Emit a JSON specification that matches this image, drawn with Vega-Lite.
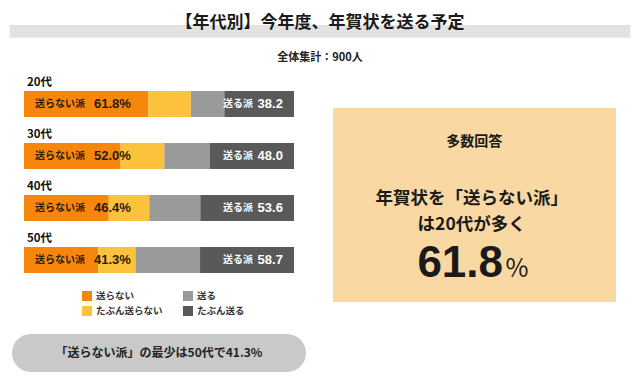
{
  "$schema": "https://vega.github.io/schema/vega-lite/v6.json",
  "width": 640,
  "height": 385,
  "autosize": {"type": "fit", "contains": "padding"},
  "padding": 0,
  "background": "#ffffff",
  "config": {
    "view": {"stroke": null},
    "font": "Noto Sans CJK JP",
    "text": {"font": "Noto Sans CJK JP"}
  },
  "datasets": {
    "answers": [
      {"age": "20代", "answer": "送らない", "level": 1, "pct": 46.0},
      {"age": "20代", "answer": "たぶん送らない", "level": 2, "pct": 15.8},
      {"age": "20代", "answer": "送る", "level": 3, "pct": 12.4},
      {"age": "20代", "answer": "たぶん送る", "level": 4, "pct": 25.8},
      {"age": "30代", "answer": "送らない", "level": 1, "pct": 35.8},
      {"age": "30代", "answer": "たぶん送らない", "level": 2, "pct": 16.2},
      {"age": "30代", "answer": "送る", "level": 3, "pct": 16.9},
      {"age": "30代", "answer": "たぶん送る", "level": 4, "pct": 31.1},
      {"age": "40代", "answer": "送らない", "level": 1, "pct": 31.4},
      {"age": "40代", "answer": "たぶん送らない", "level": 2, "pct": 15.0},
      {"age": "40代", "answer": "送る", "level": 3, "pct": 18.9},
      {"age": "40代", "answer": "たぶん送る", "level": 4, "pct": 34.7},
      {"age": "50代", "answer": "送らない", "level": 1, "pct": 27.5},
      {"age": "50代", "answer": "たぶん送らない", "level": 2, "pct": 13.8},
      {"age": "50代", "answer": "送る", "level": 3, "pct": 23.9},
      {"age": "50代", "answer": "たぶん送る", "level": 4, "pct": 34.8}
    ],
    "groups": [
      {"age": "20代", "no": 61.8, "yes": 38.2},
      {"age": "30代", "no": 52.0, "yes": 48.0},
      {"age": "40代", "no": 46.4, "yes": 53.6},
      {"age": "50代", "no": 41.3, "yes": 58.7}
    ]
  },
  "layer": [
    {
      "layer": [
        {
          "data": {"name": "answers"},
          "mark": {"type": "bar"},
          "encoding": {
            "y": {"field": "age", "type": "nominal", "sort": ["20代", "30代", "40代", "50代"], "axis": null,
                  "scale": {"type": "band", "paddingInner": 0.5, "paddingOuter": 0.25, "range": [78, 286]}},
            "x": {"field": "pct", "type": "quantitative", "stack": "zero", "axis": null,
                  "scale": {"domain": [-8.889, 228.148], "nice": false, "zero": false}},
            "color": {"field": "answer", "type": "nominal",
                      "scale": {"domain": ["送らない", "たぶん送らない", "送る", "たぶん送る"],
                                "range": ["#f7870c", "#fdc23c", "#9a9a9a", "#595959"]},
                      "legend": {"orient": "none", "legendX": 82, "legendY": 291, "columns": 2, "title": null,
                                 "symbolType": "square", "symbolSize": 100, "symbolStrokeWidth": 0,
                                 "labelFontSize": 9.5, "labelFont": "Noto Sans CJK JP", "labelFontWeight": "bold",
                                 "labelColor": "#333333", "rowPadding": 5, "columnPadding": 20, "labelOffset": 4, "padding": 0}},
            "order": {"field": "level", "type": "quantitative"}
          }
        },
        {
          "data": {"name": "groups"},
          "mark": {"type": "text", "align": "left", "dy": -21, "fontSize": 11.5, "fontWeight": "bold", "color": "#111111"},
          "encoding": {
            "y": {"field": "age", "type": "nominal", "sort": ["20代", "30代", "40代", "50代"], "axis": null, "scale": {"type": "band"}},
            "x": {"datum": 1.1, "type": "quantitative", "axis": null},
            "text": {"field": "age"}
          }
        },
        {
          "data": {"name": "groups"},
          "mark": {"type": "text", "align": "left", "fontSize": 10, "fontWeight": "bold", "color": "#2a1a10", "text": "送らない派"},
          "encoding": {
            "y": {"field": "age", "type": "nominal", "sort": ["20代", "30代", "40代", "50代"], "axis": null, "scale": {"type": "band"}},
            "x": {"datum": 4.1, "type": "quantitative", "axis": null}
          }
        },
        {
          "data": {"name": "groups"},
          "mark": {"type": "text", "align": "left", "fontSize": 13, "fontWeight": "bold", "color": "#2a1a10",
                   "font": "Liberation Sans",
                   "text": {"expr": "format(datum.no, '.1f') + '%'"}},
          "encoding": {
            "y": {"field": "age", "type": "nominal", "sort": ["20代", "30代", "40代", "50代"], "axis": null, "scale": {"type": "band"}},
            "x": {"datum": 25.9, "type": "quantitative", "axis": null}
          }
        },
        {
          "data": {"name": "groups"},
          "mark": {"type": "text", "align": "right", "fontSize": 10, "fontWeight": "bold", "color": "#ffffff", "text": "送る派"},
          "encoding": {
            "y": {"field": "age", "type": "nominal", "sort": ["20代", "30代", "40代", "50代"], "axis": null, "scale": {"type": "band"}},
            "x": {"datum": 84.8, "type": "quantitative", "axis": null}
          }
        },
        {
          "data": {"name": "groups"},
          "mark": {"type": "text", "align": "right", "fontSize": 13, "fontWeight": "bold", "color": "#ffffff",
                   "font": "Liberation Sans"},
          "encoding": {
            "y": {"field": "age", "type": "nominal", "sort": ["20代", "30代", "40代", "50代"], "axis": null, "scale": {"type": "band"}},
            "x": {"datum": 95.9, "type": "quantitative", "axis": null},
            "text": {"field": "yes", "type": "quantitative", "format": ".1f"}
          }
        }
      ]
    },
    {
      "layer": [
        {
          "data": {"values": [{"part": "title band"}]},
          "mark": {"type": "rect", "color": "#e2e2e2"},
          "encoding": {
            "x": {"datum": 1.5, "type": "quantitative", "axis": null, "scale": {"domain": [0, 100], "nice": false, "zero": false}},
            "x2": {"datum": 98.5},
            "y": {"datum": 6.5, "type": "quantitative", "axis": null, "scale": {"domain": [100, 0], "nice": false, "zero": false}},
            "y2": {"datum": 9.8}
          }
        },
        {
          "data": {"values": [{"label": "【年代別】今年度、年賀状を送る予定"}]},
          "mark": {"type": "text", "fontSize": 17, "fontWeight": "bold", "color": "#1a1a1a"},
          "encoding": {
            "x": {"datum": 50, "type": "quantitative", "axis": null},
            "y": {"datum": 5.85, "type": "quantitative", "axis": null},
            "text": {"field": "label"}
          }
        },
        {
          "data": {"values": [{"label": "全体集計：900人"}]},
          "mark": {"type": "text", "fontSize": 11, "fontWeight": "bold", "color": "#222222"},
          "encoding": {
            "x": {"datum": 50, "type": "quantitative", "axis": null},
            "y": {"datum": 15.1, "type": "quantitative", "axis": null},
            "text": {"field": "label"}
          }
        },
        {
          "data": {"values": [{"part": "callout"}]},
          "mark": {"type": "rect", "color": "#f9d8a3"},
          "encoding": {
            "x": {"datum": 52.03, "type": "quantitative", "axis": null},
            "x2": {"datum": 96.25},
            "y": {"datum": 28.05, "type": "quantitative", "axis": null},
            "y2": {"datum": 78.44}
          }
        },
        {
          "data": {"values": [{"label": "多数回答"}]},
          "mark": {"type": "text", "fontSize": 14, "fontWeight": "bold", "color": "#1a1a1a"},
          "encoding": {
            "x": {"datum": 74.1, "type": "quantitative", "axis": null},
            "y": {"datum": 36.8, "type": "quantitative", "axis": null},
            "text": {"field": "label"}
          }
        },
        {
          "data": {"values": [{"lines": ["年賀状を「送らない派」", "は20代が多く"]}]},
          "mark": {"type": "text", "fontSize": 17.5, "fontWeight": "bold", "color": "#1a1a1a", "lineHeight": 25.5},
          "encoding": {
            "x": {"datum": 73.7, "type": "quantitative", "axis": null},
            "y": {"datum": 51.8, "type": "quantitative", "axis": null},
            "text": {"field": "lines"}
          }
        },
        {
          "data": {"values": [{"share": 61.8}]},
          "mark": {"type": "text", "align": "right", "baseline": "alphabetic", "fontSize": 44, "fontWeight": "bold", "color": "#1a1a1a",
                   "font": "Liberation Sans"},
          "encoding": {
            "x": {"datum": 78.6, "type": "quantitative", "axis": null},
            "y": {"datum": 71.95, "type": "quantitative", "axis": null},
            "text": {"field": "share", "type": "quantitative", "format": ".1f"}
          }
        },
        {
          "data": {"values": [{"label": "%"}]},
          "mark": {"type": "text", "align": "left", "baseline": "alphabetic", "fontSize": 25, "fontWeight": "normal", "color": "#1a1a1a"},
          "encoding": {
            "x": {"datum": 79.0, "type": "quantitative", "axis": null},
            "y": {"datum": 71.95, "type": "quantitative", "axis": null},
            "text": {"field": "label"}
          }
        },
        {
          "data": {"values": [{"part": "summary pill"}]},
          "mark": {"type": "rect", "color": "#c9c9c9", "cornerRadius": 19},
          "encoding": {
            "x": {"datum": 1.875, "type": "quantitative", "axis": null},
            "x2": {"datum": 47.8},
            "y": {"datum": 86.75, "type": "quantitative", "axis": null},
            "y2": {"datum": 96.6}
          }
        },
        {
          "data": {"values": [{"label": "「送らない派」の最少は50代で41.3%"}]},
          "mark": {"type": "text", "fontSize": 12, "fontWeight": "bold", "color": "#222222"},
          "encoding": {
            "x": {"datum": 24.84, "type": "quantitative", "axis": null},
            "y": {"datum": 91.7, "type": "quantitative", "axis": null},
            "text": {"field": "label"}
          }
        }
      ]
    }
  ],
  "resolve": {"scale": {"x": "independent", "y": "independent"}}
}
